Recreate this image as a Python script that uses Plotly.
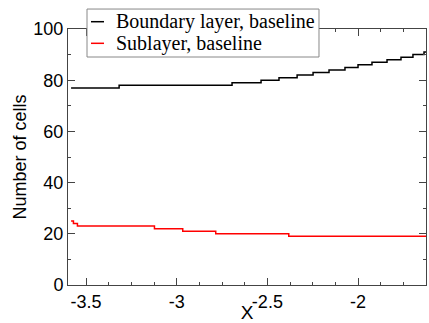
import plotly.graph_objects as go

# Boundary layer, baseline (step changes)
bl_x = [-3.583, -3.318, -2.695, -2.535, -2.436, -2.336, -2.248, -2.160,
        -2.072, -2.000, -1.923, -1.840, -1.763, -1.697, -1.636, -1.625]
bl_y = [77, 78, 79, 80, 81, 82, 83, 84, 85, 86, 87, 88, 89, 90, 91, 91]

# Sublayer, baseline
sl_x = [-3.583, -3.570, -3.548, -3.123, -2.967, -2.785, -2.382, -1.625]
sl_y = [25, 24, 23, 22, 21, 20, 19, 19]

series_names = ["Boundary layer, baseline", "Sublayer, baseline"]
series_colors = ["black", "#ff0000"]

x_tickvals = [-3.5, -3, -2.5, -2]
x_ticktext = ["-3.5", "-3", "-2.5", "-2"]
y_tickvals = [0, 20, 40, 60, 80, 100]
y_ticktext = ["0", "20", "40", "60", "80", "100"]

fig = go.Figure()
fig.add_trace(go.Scatter(x=bl_x, y=bl_y, mode="lines", line_shape="hv",
                         line=dict(color=series_colors[0], width=1.5),
                         name=series_names[0]))
fig.add_trace(go.Scatter(x=sl_x, y=sl_y, mode="lines", line_shape="hv",
                         line=dict(color=series_colors[1], width=1.5),
                         name=series_names[1]))

axis_common = dict(showline=True, linecolor="#444", linewidth=1, mirror="ticks",
                   ticks="inside", ticklen=7, tickcolor="#444", showgrid=False,
                   zeroline=False, automargin=False,
                   tickfont=dict(family="Liberation Sans", size=18, color="black"))

fig.update_xaxes(range=[-3.6, -1.625], tickvals=x_tickvals, ticktext=x_ticktext,
                 minor=dict(dtick=0.125, ticks="inside", ticklen=3, tickcolor="#444"),
                 title=dict(text="X", font=dict(family="Liberation Sans", size=19, color="black"),
                            standoff=0),
                 **axis_common)
fig.update_yaxes(range=[0, 100], tickvals=y_tickvals, ticktext=y_ticktext,
                 minor=dict(dtick=10, ticks="inside", ticklen=3, tickcolor="#444"),
                 title=dict(text="Number of cells", font=dict(family="Liberation Sans", size=18, color="black"),
                            standoff=2),
                 **axis_common)

# Legend box drawn in paper coordinates (xmgrace style)
shapes = [dict(type="rect", xref="paper", yref="paper", x0=0.0531, x1=0.7011,
               y0=0.8906, y1=1.078, line=dict(color="#888", width=1),
               fillcolor="white", layer="above")]
annotations = []
row_y = [1.0285, 0.9441]
for name, color, ry in zip(series_names, series_colors, row_y):
    shapes.append(dict(type="line", xref="paper", yref="paper", x0=0.0642, x1=0.1006,
                       y0=ry, y1=ry, line=dict(color=color, width=1.5), layer="above"))
    annotations.append(dict(text=name, xref="paper", yref="paper", x=0.1285, y=ry,
                            xanchor="left", yanchor="middle", showarrow=False,
                            font=dict(family="Liberation Serif", size=20, color="black")))

fig.update_layout(
    width=429, height=323,
    margin=dict(l=68, r=3, t=29, b=38),
    plot_bgcolor="white", paper_bgcolor="white",
    showlegend=False,
    shapes=shapes, annotations=annotations,
)

fig.write_html("out.html")
